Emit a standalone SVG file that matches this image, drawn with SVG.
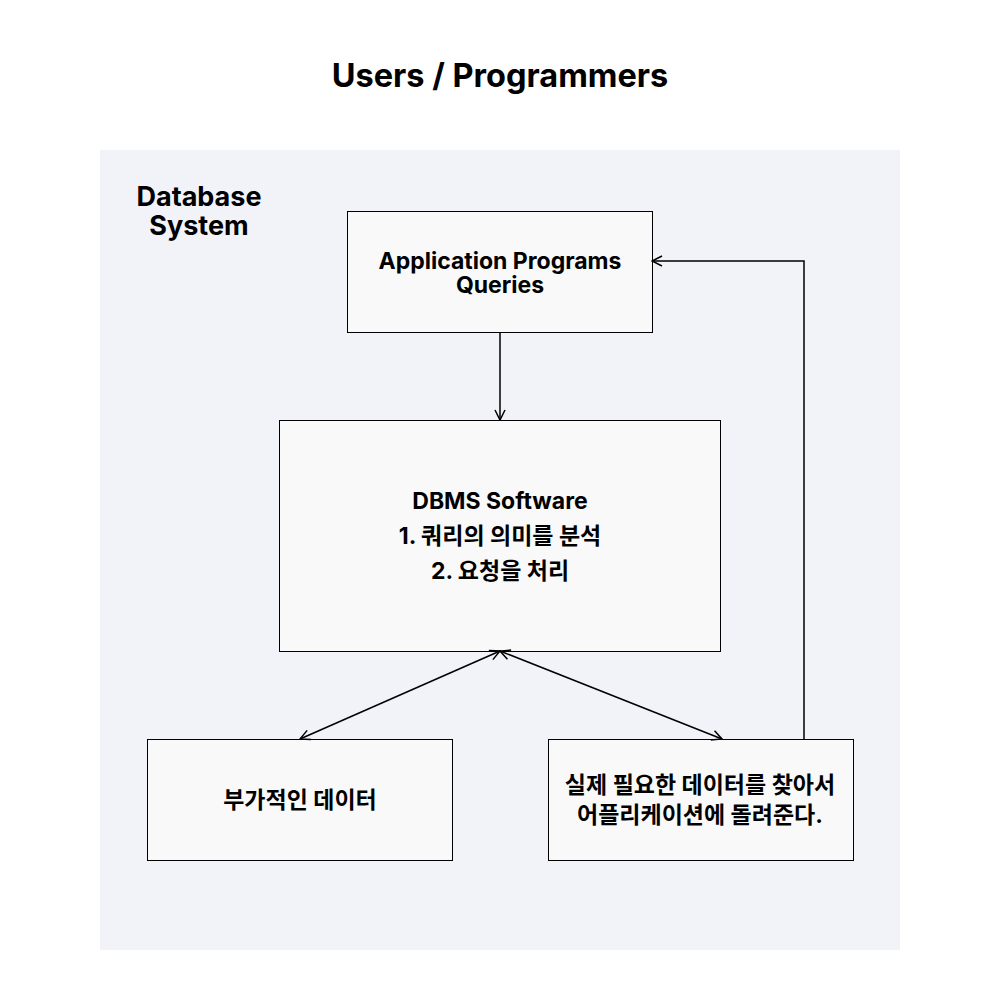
<svg xmlns="http://www.w3.org/2000/svg" width="1000" height="1000" viewBox="0 0 1000 1000">
<style>
text{font-family:Inter,"Noto Sans CJK KR","Noto Sans",sans-serif;font-weight:700;fill:#000;text-anchor:middle}
.t{font-size:23px}
.box{fill:#f9f9f9;stroke:#000;stroke-width:1}
.edge{fill:none;stroke:#000;stroke-width:1.5}
</style>
<defs>
<marker id="ah" viewBox="0 0 12 12" refX="11" refY="6" markerWidth="12" markerHeight="12" markerUnits="userSpaceOnUse" orient="auto-start-reverse">
<path d="M1,1 L11,6 L1,11" fill="none" stroke="#000" stroke-width="1.5"/>
</marker>
</defs>
<rect width="1000" height="1000" fill="#fff"/>
<text x="500" y="87" font-size="32.5">Users / Programmers</text>
<rect x="100" y="150" width="800" height="800" fill="#f2f3f8"/>
<text x="199" y="206" font-size="27">Database</text>
<text x="199" y="235" font-size="27">System</text>
<g id="app">
<rect class="box" x="347.5" y="211.5" width="305" height="121"/>
<text class="t" x="500" y="269">Application Programs</text>
<text class="t" x="500" y="293">Queries</text>
</g>
<g id="dbms">
<rect class="box" x="279.5" y="420.5" width="441" height="231"/>
<text class="t" x="500" y="509">DBMS Software</text>
<text class="t" x="500" y="544">1. 쿼리의 의미를 분석</text>
<text class="t" x="500" y="579">2. 요청을 처리</text>
</g>
<g id="meta">
<rect class="box" x="147.5" y="739.5" width="305" height="121"/>
<text class="t" x="300" y="808">부가적인 데이터</text>
</g>
<g id="data">
<rect class="box" x="548.5" y="739.5" width="305" height="121"/>
<text class="t" x="700" y="793">실제 필요한 데이터를 찾아서</text>
<text class="t" x="700" y="823">어플리케이션에 돌려준다.</text>
</g>
<g id="connectors">
<path class="edge" d="M500,332 L500,420" marker-end="url(#ah)"/>
<path class="edge" d="M804,739 L804,261 L652,261" marker-end="url(#ah)"/>
<path class="edge" d="M500,651 L300,739" marker-start="url(#ah)" marker-end="url(#ah)"/>
<path class="edge" d="M500,651 L722,739" marker-start="url(#ah)" marker-end="url(#ah)"/>
</g>
</svg>
